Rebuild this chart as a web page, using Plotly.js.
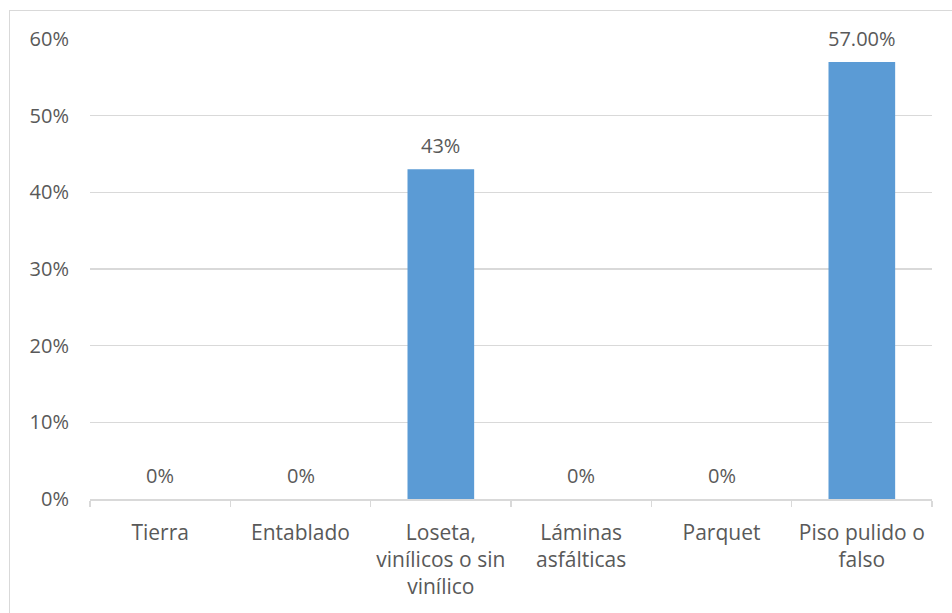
<!DOCTYPE html>
<html>
<head>
<meta charset="utf-8">
<script src="https://cdn.plot.ly/plotly-3.0.1.min.js"></script>
<style>
  html, body { margin: 0; padding: 0; background: #ffffff; }
  #wrap { position: relative; width: 952px; height: 613px; overflow: hidden; }
  #chart { position: absolute; left: 0; top: 0; width: 952px; height: 613px; }
  #frame { position: absolute; left: 9px; top: 10px; width: 960px; height: 620px;
           border: 1.5px solid #d9d9d9; pointer-events: none; box-sizing: border-box; }
</style>
</head>
<body>
<div id="wrap">
  <div id="chart"></div>
  <div id="frame"></div>
</div>
<script>
const categories = ["Tierra", "Entablado", "Loseta,<br>vinílicos o sin<br>vinílico", "Láminas<br>asfálticas", "Parquet", "Piso pulido o<br>falso"];
const values = [0, 0, 0.43, 0, 0, 0.57];
const valueLabels = ["0%", "0%", "43%", "0%", "0%", "57.00%"];
const yTickValues = [0, 0.1, 0.2, 0.3, 0.4, 0.5, 0.6];
const yTickLabels = ["0%", "10%", "20%", "30%", "40%", "50%", "60%"];

const FONT = "Open Sans, Liberation Sans, sans-serif";
const TXT = "#595959";

const trace = {
  type: "bar",
  x: categories,
  y: values,
  marker: { color: "#5b9bd5" },
  hoverinfo: "none"
};

const annotations = categories.map((c, i) => ({
  x: c, y: values[i], xref: "x", yref: "y",
  text: valueLabels[i], showarrow: false,
  yanchor: "bottom", yshift: 8,
  font: { family: FONT, size: 20, color: TXT }
}));

const layout = {
  width: 952, height: 613,
  margin: { l: 90, r: 20, t: 39, b: 114 },
  paper_bgcolor: "rgba(0,0,0,0)",
  plot_bgcolor: "#ffffff",
  showlegend: false,
  bargap: 0.525,
  font: { family: FONT, size: 20, color: TXT },
  xaxis: {
    type: "category",
    showgrid: false,
    showline: true, linecolor: "#d9d9d9", linewidth: 1.5,
    ticks: "outside", tickson: "boundaries", ticklen: 6, tickcolor: "#d9d9d9", tickwidth: 1.5,
    tickfont: { family: FONT, size: 21, color: TXT },
    ticklabelstandoff: 14,
    fixedrange: true
  },
  yaxis: {
    range: [0, 0.6],
    tickvals: yTickValues, ticktext: yTickLabels,
    showgrid: true, gridcolor: "#d9d9d9", gridwidth: 1.5,
    zeroline: false, showline: false, ticks: "",
    tickfont: { family: FONT, size: 20, color: TXT },
    ticklabelstandoff: 20,
    fixedrange: true
  },
  annotations: annotations
};

Plotly.newPlot("chart", [trace], layout, { staticPlot: true, displayModeBar: false });
</script>
</body>
</html>
